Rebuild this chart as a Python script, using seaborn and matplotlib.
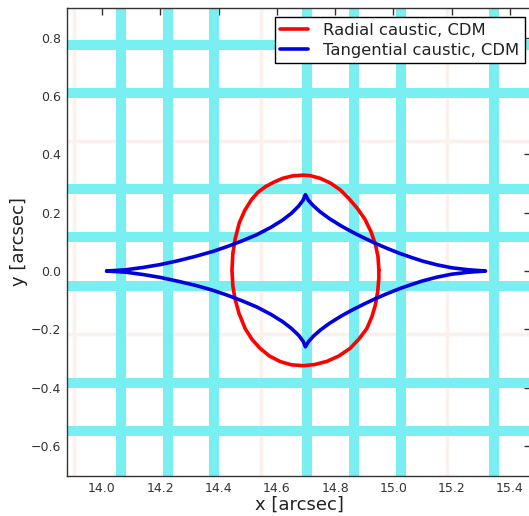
import matplotlib
matplotlib.use("Agg")
import matplotlib.pyplot as plt
import seaborn as sns
import pandas as pd

# ---------------- data ----------------
# source-plane grid lines (cyan) and faint background grid
cyan_x = [14.065, 14.225, 14.385, 14.705, 14.865, 15.025, 15.345]
cyan_y = [0.775, 0.610, 0.280, 0.115, -0.050, -0.385, -0.550]
faint_x = [13.905, 14.065, 14.225, 14.385, 14.545, 14.705, 14.865, 15.025, 15.185, 15.345]
faint_y = [0.775, 0.610, 0.445, 0.280, 0.115, -0.050, -0.215, -0.385, -0.550]

# radial caustic (closed curve)
radial_x = [14.950, 14.947, 14.938, 14.923, 14.902, 14.876, 14.846, 14.818, 14.785, 14.749,
            14.715, 14.690, 14.652, 14.620, 14.590, 14.562, 14.535, 14.513, 14.490, 14.471,
            14.457, 14.449, 14.446, 14.449, 14.456, 14.470, 14.491, 14.515, 14.542, 14.575,
            14.612, 14.650, 14.692, 14.730, 14.772, 14.812, 14.852, 14.882, 14.909, 14.926,
            14.938, 14.946, 14.950, 14.950]
radial_y = [0.003, 0.050, 0.092, 0.135, 0.178, 0.215, 0.250, 0.278, 0.301, 0.318,
            0.327, 0.329, 0.326, 0.318, 0.305, 0.290, 0.270, 0.245, 0.208, 0.165,
            0.110, 0.060, 0.003, -0.050, -0.094, -0.145, -0.197, -0.235, -0.265, -0.292,
            -0.311, -0.322, -0.325, -0.321, -0.310, -0.292, -0.265, -0.233, -0.197, -0.157,
            -0.117, -0.070, -0.025, 0.003]

# tangential caustic (closed curve: left cusp -> top -> right -> bottom -> left)
tang_x = [14.016, 14.080, 14.140, 14.200, 14.260, 14.320, 14.380, 14.430, 14.480, 14.530,
          14.580, 14.620, 14.650, 14.675, 14.690, 14.698,
          14.708, 14.725, 14.750, 14.780, 14.820, 14.860, 14.900, 14.940, 14.980, 15.020,
          15.060, 15.100, 15.150, 15.200, 15.260, 15.316,
          15.260, 15.200, 15.150, 15.100, 15.060, 15.020, 14.980, 14.940, 14.900, 14.860,
          14.820, 14.780, 14.750, 14.725, 14.708, 14.698,
          14.690, 14.675, 14.650, 14.620, 14.580, 14.530, 14.480, 14.430, 14.380, 14.320,
          14.260, 14.200, 14.140, 14.080, 14.016]
tang_y = [0.000, 0.004, 0.012, 0.022, 0.035, 0.050, 0.067, 0.084, 0.103, 0.124,
          0.150, 0.175, 0.198, 0.223, 0.243, 0.262,
          0.243, 0.224, 0.202, 0.180, 0.155, 0.133, 0.113, 0.094, 0.077, 0.061,
          0.047, 0.034, 0.021, 0.011, 0.004, 0.000,
          -0.004, -0.011, -0.021, -0.034, -0.047, -0.061, -0.077, -0.094, -0.113, -0.133,
          -0.155, -0.180, -0.202, -0.224, -0.243, -0.260,
          -0.241, -0.221, -0.197, -0.174, -0.149, -0.123, -0.102, -0.083, -0.066, -0.049,
          -0.035, -0.022, -0.012, -0.004, 0.000]

radial_label = "Radial caustic, CDM"
tang_label = "Tangential caustic, CDM"
x_ticks = [14.0, 14.2, 14.4, 14.6, 14.8, 15.0, 15.2, 15.4]
y_ticks = [-0.6, -0.4, -0.2, 0.0, 0.2, 0.4, 0.6, 0.8]

# ---------------- figure ----------------
sns.set_style("white")
plt.rcParams["font.family"] = ["DejaVu Sans"]

fig = plt.figure(figsize=(5.29, 5.16), dpi=100)
ax = fig.add_axes([67 / 529, 1 - 476 / 516, 464 / 529, 468 / 516])

for xv in faint_x:
    ax.axvline(xv, color="#faf1ed", lw=2.5, zorder=0.5)
for yv in faint_y:
    ax.axhline(yv, color="#faf1ed", lw=2.5, zorder=0.5)
for xv in cyan_x:
    ax.axvline(xv, color="#7aeff1", lw=7.2, zorder=1)
for yv in cyan_y:
    ax.axhline(yv, color="#7aeff1", lw=7.2, zorder=1)

df_r = pd.DataFrame({"x": radial_x, "y": radial_y})
df_t = pd.DataFrame({"x": tang_x, "y": tang_y})
sns.lineplot(data=df_r, x="x", y="y", sort=False, estimator=None, color="#ff0000",
             lw=2.6, label=radial_label, ax=ax, zorder=3)
sns.lineplot(data=df_t, x="x", y="y", sort=False, estimator=None, color="#0000e0",
             lw=2.6, label=tang_label, ax=ax, zorder=4)

ax.set_xlim(13.88, 15.472)
ax.set_ylim(-0.7035, 0.9025)
ax.set_xticks(x_ticks)
ax.set_yticks(y_ticks)
ax.set_xticklabels([f"{v:.1f}" for v in x_ticks])
ax.set_yticklabels([f"{v:.1f}".replace("-", "\u2212") for v in y_ticks])
ax.tick_params(direction="in", length=5, width=1, top=True, right=True,
               labelsize=9, colors="#333333", labelcolor="#333333", pad=4)
for s in ax.spines.values():
    s.set_color("#333333")
    s.set_linewidth(1.0)

ax.set_xlabel("x [arcsec]", fontsize=13, color="#222222", labelpad=1)
ax.set_ylabel("y [arcsec]", fontsize=13, color="#222222", labelpad=2)

leg = ax.legend(loc="upper right", bbox_to_anchor=(0.987, 0.981), borderaxespad=0,
                frameon=True, fancybox=False, edgecolor="black", framealpha=1,
                fontsize=11.8, handlelength=1.7, handletextpad=0.9, labelspacing=0.3,
                borderpad=0.35)
leg.get_frame().set_linewidth(1.0)
for t in leg.get_texts():
    t.set_color("#222222")

fig.savefig("out.png", dpi=100)
